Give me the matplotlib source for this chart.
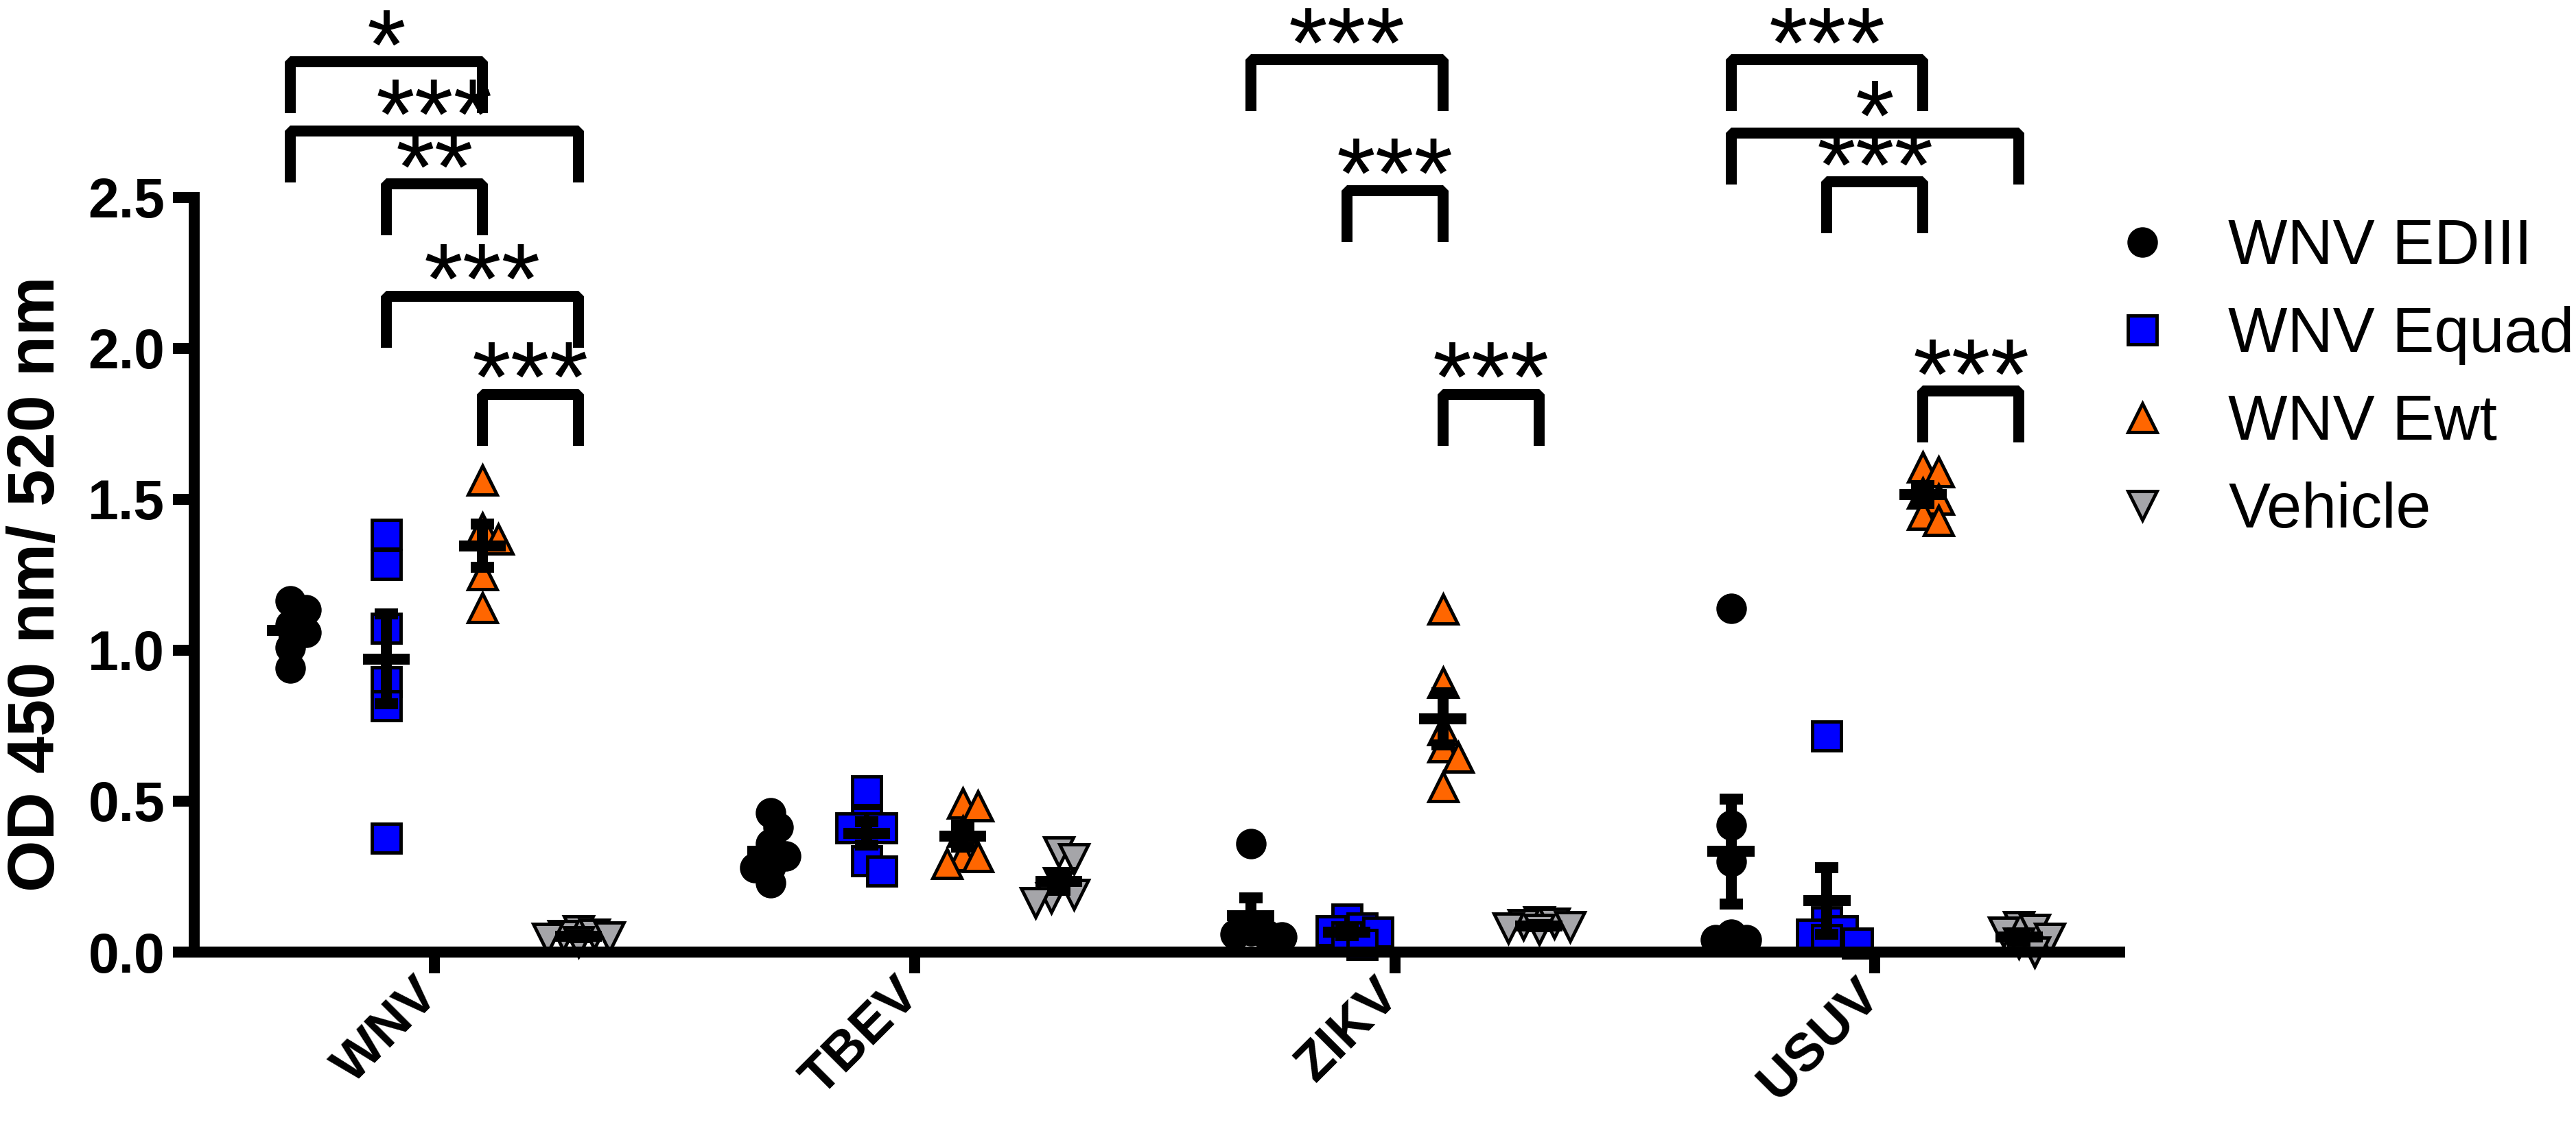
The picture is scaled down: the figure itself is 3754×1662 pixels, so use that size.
import numpy as np
import matplotlib
matplotlib.use('Agg')
import matplotlib.pyplot as plt
from matplotlib.lines import Line2D
from matplotlib.transforms import ScaledTranslation

plt.rcParams['font.family'] = ['Liberation Sans', 'DejaVu Sans']

viruses = ['WNV', 'TBEV', 'ZIKV', 'USUV']
groups = ['WNV EDIII', 'WNV Equad', 'WNV Ewt', 'Vehicle']

# OD 450/520 values per virus
edIII = [
    [1.164, 1.133, 1.083, 1.059, 1.009, 0.942],
    [0.462, 0.414, 0.36, 0.318, 0.282, 0.28, 0.229],
    [0.358, 0.07, 0.06, 0.06, 0.05],
    [1.139, 0.421, 0.300, 0.058, 0.041, 0.04],
]
equad = [
    [1.383, 1.284, 1.072, 0.896, 0.816, 0.378],
    [0.534, 0.43, 0.412, 0.412, 0.303, 0.268],
    [0.11, 0.08, 0.07, 0.065, 0.05, 0.025],
    [0.716, 0.10, 0.07, 0.06, 0.04, 0.03],
]
ewt = [
    [1.564, 1.405, 1.368, 1.251, 1.140],
    [0.493, 0.484, 0.40, 0.318, 0.315, 0.293],
    [1.137, 0.893, 0.736, 0.679, 0.645, 0.547],
    [1.606, 1.59, 1.52, 1.50, 1.45, 1.43],
]
vehicle = [
    [0.07, 0.06, 0.055, 0.05, 0.045, 0.035],
    [0.332, 0.31, 0.23, 0.19, 0.18, 0.164],
    [0.10, 0.095, 0.09, 0.085, 0.08, 0.075],
    [0.085, 0.075, 0.065, 0.045, 0.03, 0.0],
]
series = [edIII, equad, ewt, vehicle]

# significance brackets: (virus, group a, group b, bar height, label)
brackets = [
    (0, 0, 2, 2.950, '*'),
    (0, 0, 3, 2.720, '***'),
    (0, 1, 2, 2.545, '**'),
    (0, 1, 3, 2.173, '***'),
    (0, 2, 3, 1.848, '***'),
    (2, 0, 2, 2.956, '***'),
    (2, 1, 2, 2.523, '***'),
    (2, 2, 3, 1.848, '***'),
    (3, 0, 2, 2.956, '***'),
    (3, 0, 3, 2.714, '*'),
    (3, 1, 2, 2.552, '***'),
    (3, 2, 3, 1.859, '***'),
]

markers = ['o', 's', '^', 'v']
sizes = [28.5, 30.5, 30, 30]
colors = ['black', '#0000ff', '#ff6600', '#a5a5a9']
offsets = [-0.3, -0.1, 0.1, 0.3]

LW = 11.5
XLIM = (-0.5, 3.51)
YLIM = (0, 3.1545)

fig = plt.figure(figsize=(37.54, 16.62), dpi=100)
ax = fig.add_axes([0.07545, 0.16486, 0.7475, 0.83514])
ax.set_xlim(*XLIM)
ax.set_ylim(*YLIM)

# pixels per data unit, used to spread overlapping points
ppx = 0.7475 * 3754 / (XLIM[1] - XLIM[0])
ppy = 0.83514 * 1662 / (YLIM[1] - YLIM[0])
DIAM = 45.0


def swarm(vals):
    placed = []
    offs = []
    for v in vals:
        y = v * ppy
        best = 0.0
        for k in [0, 1, -1, 2, -2, 3, -3, 4, -4]:
            dx = k * DIAM * 0.25
            if all(np.hypot(dx - px, y - py) >= 0.5 * DIAM for px, py in placed):
                best = dx
                break
        placed.append((best, y))
        offs.append(best / ppx)
    return np.array(offs)


for vi in range(len(viruses)):
    for gi in range(len(groups)):
        vals = np.array(series[gi][vi])
        xc = vi + offsets[gi]
        ax.plot(xc + swarm(vals), vals, ls='none', marker=markers[gi],
                ms=sizes[gi], mfc=colors[gi], mec='black', mew=3.5,
                clip_on=False, zorder=2)
        mean = vals.mean()
        sem = vals.std(ddof=1) / np.sqrt(len(vals))
        ax.errorbar(xc, mean, yerr=sem, fmt='none', ecolor='black',
                    elinewidth=LW, capsize=12.3, capthick=LW, zorder=3,
                    clip_on=False)
        ax.hlines(mean, xc - 0.049, xc + 0.049, color='black', lw=LW,
                  zorder=3, clip_on=False)

leg_len = 0.17
for vi, a, b, yb, lab in brackets:
    x1 = vi + offsets[a]
    x2 = vi + offsets[b]
    ax.plot([x1, x1, x2, x2], [yb - leg_len, yb, yb, yb - leg_len],
            color='black', lw=LW, solid_joinstyle='bevel',
            solid_capstyle='butt', clip_on=False, zorder=3)
    ax.text((x1 + x2) / 2, yb - 0.057, lab, ha='center', va='baseline',
            fontsize=105, clip_on=False)

# axes styling
for s in ['top', 'right']:
    ax.spines[s].set_visible(False)
for s in ['left', 'bottom']:
    ax.spines[s].set_linewidth(LW)
    ax.spines[s].set_capstyle('projecting')
ax.spines['left'].set_bounds(0, 2.5)

yt = [0, 0.5, 1.0, 1.5, 2.0, 2.5]
ax.set_yticks(yt, labels=[f'{t:.1f}' for t in yt], fontsize=58,
              fontweight='bold')
ax.set_xticks(range(len(viruses)), labels=viruses, fontsize=56,
              fontweight='bold', rotation=45, ha='right', va='center',
              rotation_mode='anchor')
ax.tick_params(axis='both', length=22.5, width=LW, direction='out')
ax.tick_params(axis='y', pad=8.5)
ax.tick_params(axis='x', pad=14)
shift = ScaledTranslation(-5 / 100, 0, fig.dpi_scale_trans)
for lab in ax.get_xticklabels():
    lab.set_transform(lab.get_transform() + shift)

ax.set_ylabel('OD 450 nm/ 520 nm', fontsize=70, fontweight='bold')
ax.yaxis.set_label_coords(-0.0656, 1.22 / YLIM[1])

handles = [Line2D([], [], ls='none', marker=markers[i], ms=sizes[i],
                  mfc=colors[i], mec='black', mew=3.5)
           for i in range(len(groups))]
ax.legend(handles, groups, loc='upper left',
          bbox_to_anchor=(3076 / 3754, 1 - 318 / 1662),
          bbox_transform=fig.transFigure, frameon=False, fontsize=66,
          handlelength=1.0, handletextpad=0.87, labelspacing=0.46,
          borderpad=0, borderaxespad=0, numpoints=1)

fig.savefig('out.png', dpi=100)
